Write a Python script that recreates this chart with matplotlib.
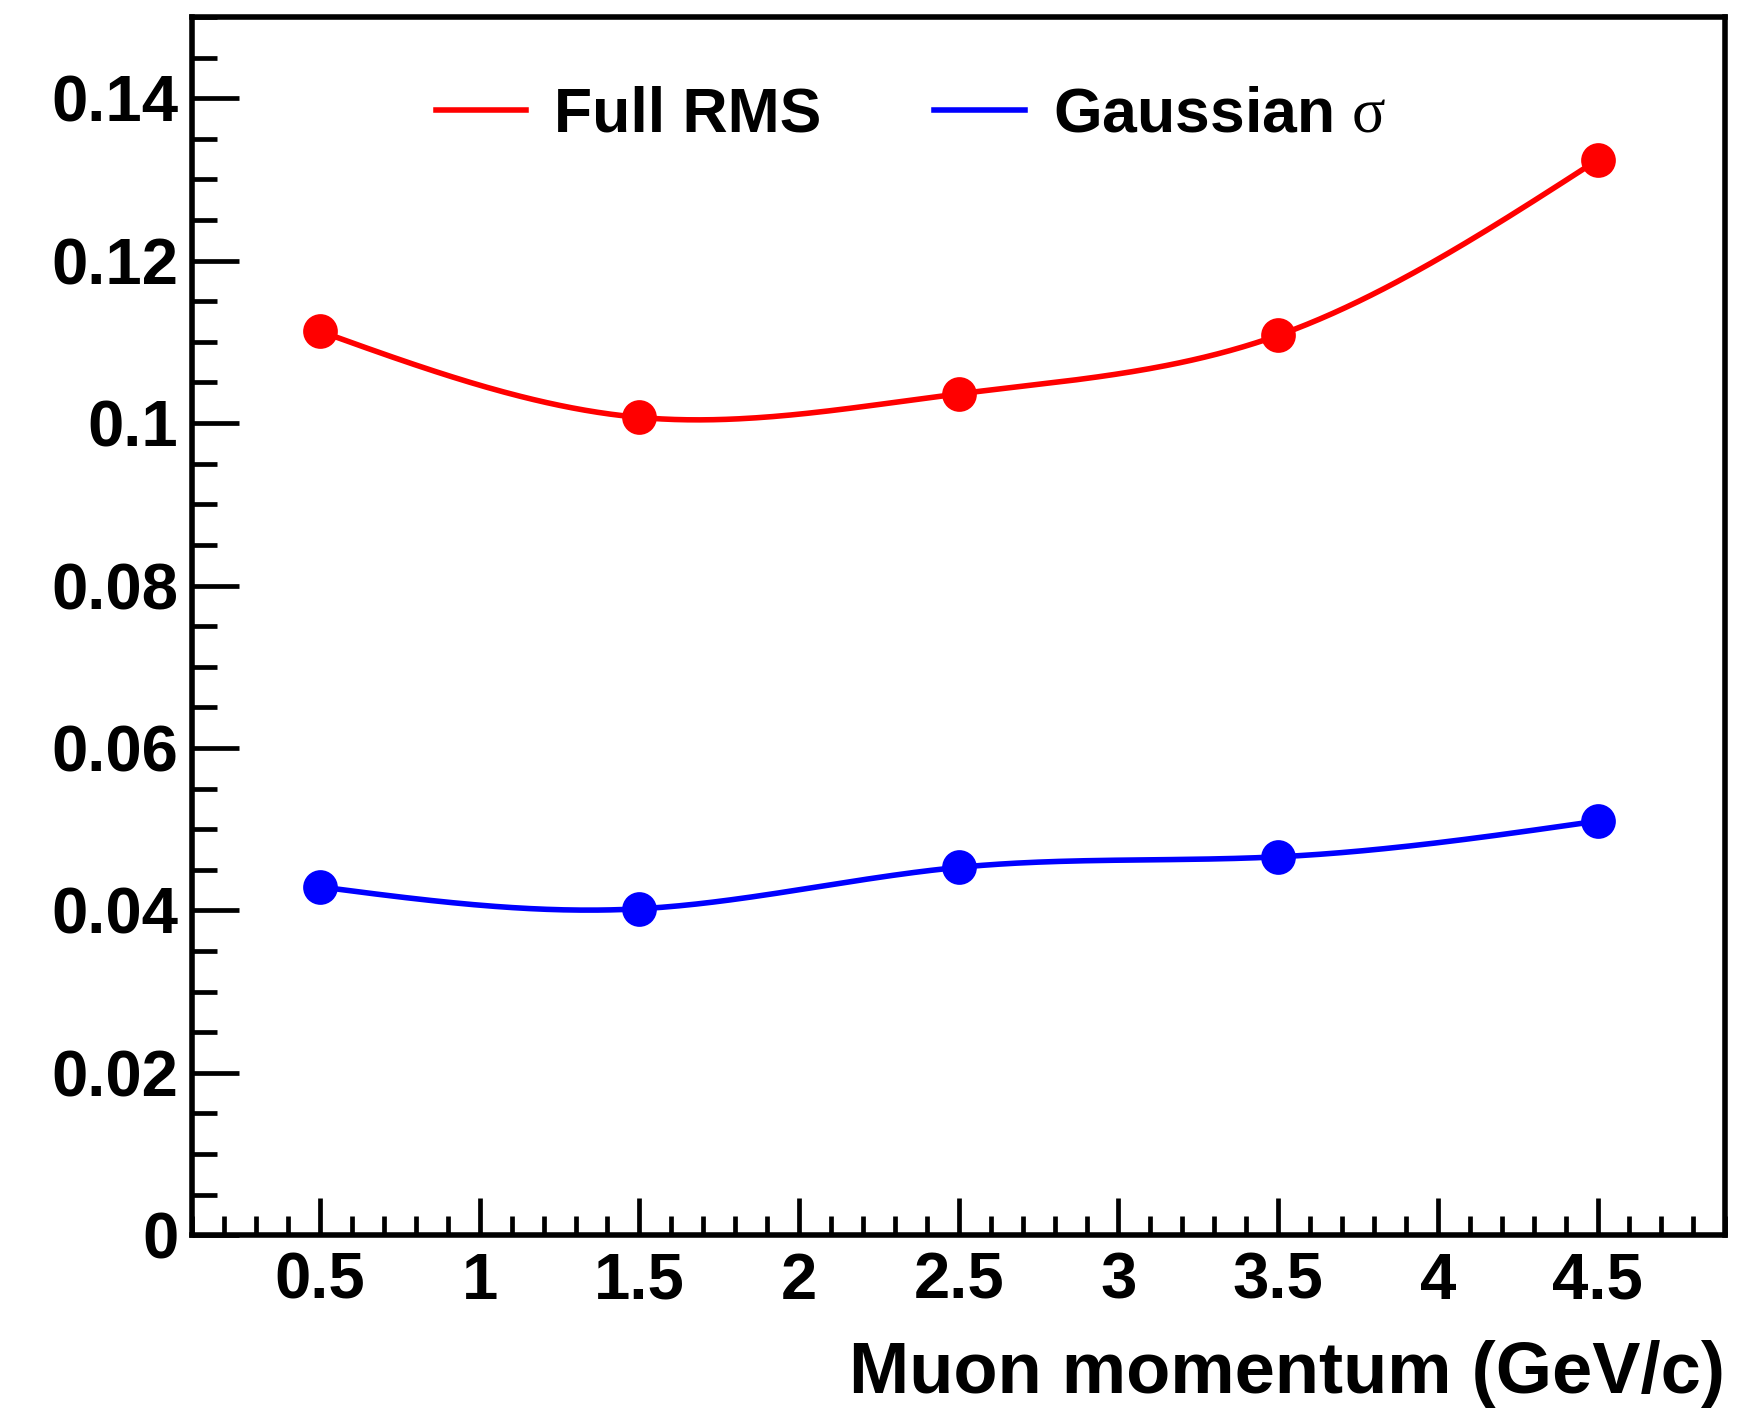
import numpy as np
import matplotlib
matplotlib.use("Agg")
import matplotlib.pyplot as plt
from matplotlib.ticker import MultipleLocator, FixedLocator, FuncFormatter

momentum = [0.5, 1.5, 2.5, 3.5, 4.5]
full_rms = [0.1113, 0.1007, 0.1036, 0.1108, 0.1324]
gauss_sigma = [0.0429, 0.0402, 0.0453, 0.0466, 0.0510]

plt.rcParams['font.family'] = ['Liberation Sans', 'DejaVu Sans']
plt.rcParams['mathtext.fontset'] = 'custom'
plt.rcParams['mathtext.rm'] = 'Liberation Serif'
plt.rcParams['mathtext.it'] = 'Liberation Serif'


def natural_spline(x, y, n=300):
    x = np.asarray(x, float); y = np.asarray(y, float)
    k = len(x)
    h = np.diff(x)
    A = np.zeros((k, k)); b = np.zeros(k)
    A[0, 0] = 1; A[-1, -1] = 1
    for i in range(1, k - 1):
        A[i, i - 1] = h[i - 1]
        A[i, i] = 2 * (h[i - 1] + h[i])
        A[i, i + 1] = h[i]
        b[i] = 3 * ((y[i + 1] - y[i]) / h[i] - (y[i] - y[i - 1]) / h[i - 1])
    c = np.linalg.solve(A, b)
    xs = np.linspace(x[0], x[-1], n)
    ys = np.empty_like(xs)
    for j, xv in enumerate(xs):
        i = min(np.searchsorted(x, xv, side='right') - 1, k - 2)
        dx = xv - x[i]
        bi = (y[i + 1] - y[i]) / h[i] - h[i] * (c[i + 1] + 2 * c[i]) / 3
        di = (c[i + 1] - c[i]) / (3 * h[i])
        ys[j] = y[i] + bi * dx + c[i] * dx ** 2 + di * dx ** 3
    return xs, ys


fig = plt.figure(figsize=(17.48, 14.15), dpi=100)
ax = fig.add_axes([0.110, 0.127, 0.877, 0.861])

for yv, col, lab in [(full_rms, '#ff0000', 'Full RMS'),
                     (gauss_sigma, '#0000ff', r'Gaussian $\mathrm{\sigma}$')]:
    xs, ys = natural_spline(momentum, yv)
    ax.plot(xs, ys, color=col, lw=4.0, label=lab)
    ax.plot(momentum, yv, 'o', color=col, ms=25, mec='none')

ax.set_xlim(0.1, 4.9)
ax.set_ylim(0, 0.15)

ax.xaxis.set_major_locator(FixedLocator([0.5, 1, 1.5, 2, 2.5, 3, 3.5, 4, 4.5]))
ax.xaxis.set_minor_locator(MultipleLocator(0.1))
ax.yaxis.set_major_locator(MultipleLocator(0.02))
ax.yaxis.set_minor_locator(MultipleLocator(0.005))
ax.xaxis.set_major_formatter(FuncFormatter(lambda v, p: f"{v:g}"))
ax.yaxis.set_major_formatter(FuncFormatter(lambda v, p: f"{v:g}"))

ax.tick_params(axis='both', which='both', direction='in', top=False, right=False,
               labelsize=47, width=3.4)
ax.tick_params(axis='x', which='major', length=27, pad=12)
ax.tick_params(axis='x', which='minor', length=14)
ax.tick_params(axis='y', which='major', length=34, pad=10)
ax.tick_params(axis='y', which='minor', length=18)
for lbl in ax.get_xticklabels() + ax.get_yticklabels():
    lbl.set_fontweight('bold')
for s in ax.spines.values():
    s.set_linewidth(4.0)

ax.set_xlabel('Muon momentum (GeV/c)', fontsize=52, fontweight='bold', loc='right', labelpad=20)

leg = ax.legend(ncol=2, loc='upper left', bbox_to_anchor=(0.122, 0.99), frameon=False,
                fontsize=45, handlelength=1.45, columnspacing=1.8, handletextpad=0.45)
for t in leg.get_texts():
    t.set_fontweight('bold')

fig.savefig('out.png', dpi=100)
